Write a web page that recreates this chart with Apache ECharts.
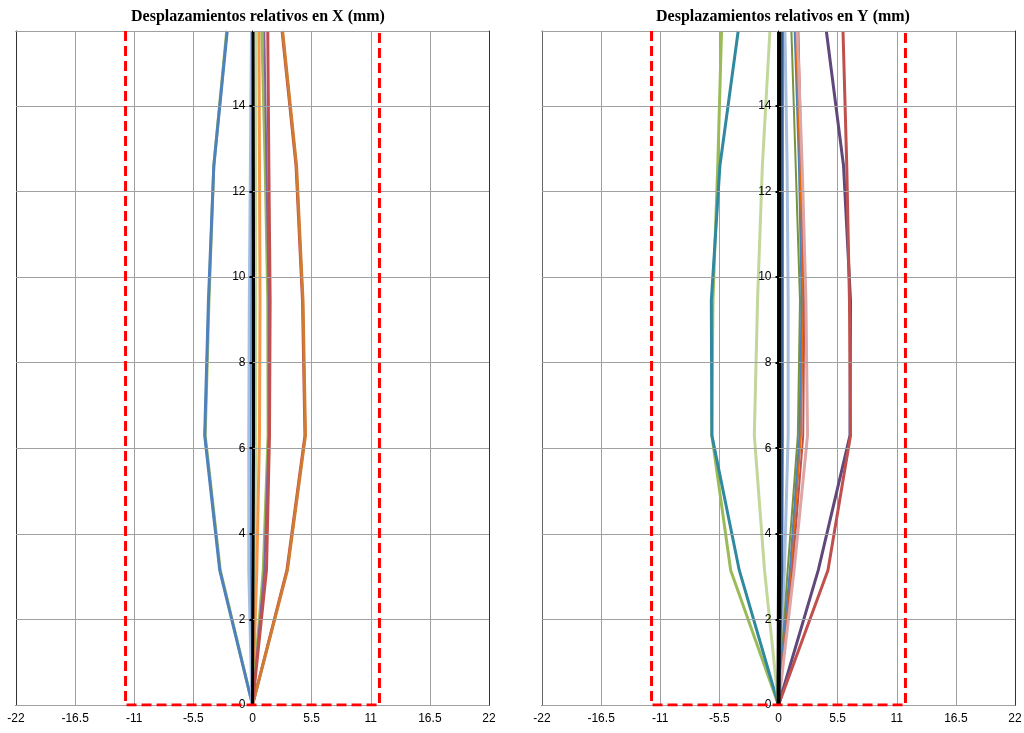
<!DOCTYPE html>
<html>
<head>
<meta charset="utf-8">
<script src="https://cdn.jsdelivr.net/npm/echarts@6/dist/echarts.min.js"></script>
<style>
html,body{margin:0;padding:0;background:#fff;}
#chart{width:1024px;height:733px;}
</style>
</head>
<body>
<div id="chart"></div>
<script>
// Floor heights (y values)
const floors = [0, 3.15, 6.3, 9.45, 12.6, 15.75];
const limit = 11.81;
const titles = ['Desplazamientos relativos en X (mm)', 'Desplazamientos relativos en Y (mm)'];

// X direction series
const xGreenA   = [0, -3.0, -4.4, -4.05, -3.6, -2.4];
const xBlue     = [0, -3.05, -4.45, -4.1, -3.6, -2.35];
const xRedA     = [0, 3.2, 4.88, 4.65, 4.05, 2.75];
const xBrown    = [0, 3.25, 4.93, 4.7, 4.1, 2.8];
const xLightBlue= [0, -0.3, -0.3, -0.25, -0.15, -0.05];
const xBlueThin = [0, -0.15, -0.15, -0.12, -0.08, 0];
const xBlack    = [0, 0.05, 0.1, 0.1, 0.08, 0.05];
const xTan      = [0, 0.2, 0.3, 0.3, 0.3, 0.3];
const xOrange   = [0, 0.4, 0.65, 0.7, 0.65, 0.6];
const xGreen    = [0, 1.0, 1.45, 1.42, 1.18, 0.87];
const xPurple   = [0, 1.1, 1.5, 1.5, 1.3, 1.1];
const xRed      = [0, 1.3, 1.58, 1.64, 1.52, 1.42];

// Y direction series
const yGreen     = [0, -4.45, -6.2, -6.1, -5.65, -5.3];
const yTeal      = [0, -3.65, -6.2, -6.25, -5.45, -3.75];
const yLightGreen= [0, -1.3, -2.25, -1.95, -1.5, -0.8];
const yDarkBlue  = [0, 0.3, 0.35, 0.35, 0.35, 0.35];
const yLightBlue = [0, 0.55, 0.9, 0.9, 0.8, 0.6];
const yOlive     = [0, 0.85, 1.8, 2.0, 1.6, 1.2];
const ySteel     = [0, 1.1, 2.0, 2.2, 1.95, 1.55];
const yOrange    = [0, 1.2, 2.1, 2.3, 2.0, 1.6];
const yRedThin   = [0, 1.3, 2.3, 2.4, 2.15, 1.85];
const yPink      = [0, 1.45, 2.7, 2.55, 2.2, 1.75];
const yPurple    = [0, 3.7, 6.65, 6.7, 6.05, 4.45];
const yRed       = [0, 4.6, 6.7, 6.6, 6.35, 6.0];
const yBlack     = [0, 0.05, 0.05, 0.05, 0.05, 0.05];

const xMin = -22, xMax = 22;
const gridW = 473;
const yMax = floors[floors.length-1];

function pairs(vals){ return vals.map((v,i)=>[v, floors[i]]); }
function line(idx, vals, color, width){
  return {type:'line', xAxisIndex:idx, yAxisIndex:idx, data:pairs(vals), showSymbol:false, symbol:'none',
    lineStyle:{color:color, width:width||3}, itemStyle:{color:color}, silent:true, z:2};
}
function limitSeries(idx){
  return {type:'line', xAxisIndex:idx, yAxisIndex:idx, data:[[-limit, yMax],[-limit,0],[limit,0],[limit,yMax]],
    showSymbol:false, symbol:'none', lineStyle:{color:'#FF0000', width:3, type:[10,5]}, silent:true, z:5};
}

const font = 'Liberation Sans';
function xAxis(idx){
  return {type:'value', gridIndex:idx, min:xMin, max:xMax, interval:5.5,
    axisLine:{show:true, onZero:false, lineStyle:{color:'#000', width:1}},
    axisTick:{show:false},
    axisLabel:{color:'#000', fontSize:12, fontFamily:font, margin:8},
    splitLine:{show:true, lineStyle:{color:'#A0A0A0', width:1}}};
}
function xFrame(idx){
  return {type:'value', gridIndex:idx, min:xMin, max:xMax, position:'top',
    axisLine:{show:true, onZero:false, lineStyle:{color:'#333', width:1}},
    axisTick:{show:false}, axisLabel:{show:false}, splitLine:{show:false}};
}
function yAxis(idx){
  // place the vertical axis at x = 0, as in the reference
  const off = -(0 - xMin) / (xMax - xMin) * gridW;
  return {type:'value', gridIndex:idx, min:0, max:yMax, interval:2,
    position:'left', offset:off, z:4,
    axisLine:{show:true, onZero:false, lineStyle:{color:'#000', width:1}},
    axisTick:{show:true, length:3, lineStyle:{color:'#000', width:2}},
    axisLabel:{color:'#000', fontSize:12, fontFamily:font, margin:7, showMaxLabel:false},
    splitLine:{show:true, lineStyle:{color:'#A0A0A0', width:1}}};
}
function yFrame(idx, pos, color){
  return {type:'value', gridIndex:idx, min:0, max:yMax, position:pos, offset:0,
    axisLine:{show:true, onZero:false, lineStyle:{color:color, width:1}},
    axisTick:{show:false}, axisLabel:{show:false}, splitLine:{show:false}};
}

const option = {
  animation:false,
  backgroundColor:'#fff',
  title:[
    {text:titles[0], left:253, top:4, textAlign:'center', textStyle:{fontFamily:'Liberation Serif', fontWeight:'bold', fontSize:16, color:'#000'}},
    {text:titles[1], left:778, top:4, textAlign:'center', textStyle:{fontFamily:'Liberation Serif', fontWeight:'bold', fontSize:16, color:'#000'}}
  ],
  grid:[
    {left:16, top:31, width:gridW, height:674, show:false, outerBoundsMode:'none', containLabel:false},
    {left:542, top:31, width:gridW, height:674, show:false, outerBoundsMode:'none', containLabel:false}
  ],
  xAxis:[xAxis(0), xAxis(1), xFrame(0), xFrame(1)],
  yAxis:[yAxis(0), yAxis(1), yFrame(0,'left','#333'), yFrame(0,'right','#333'), yFrame(1,'left','#666'), yFrame(1,'right','#333')],
  series:[
    line(0, xGreenA, '#9BBB59'),
    line(0, xBlue, '#4F81BD'),
    line(0, xRedA, '#C0504D'),
    line(0, xBrown, '#CF7B33'),
    line(0, xLightBlue, '#A7BFDE', 4),
    line(0, xBlueThin, '#4F81BD', 1.5),
    line(0, xTan, '#C4D79B'),
    line(0, xOrange, '#F79646'),
    line(0, xGreen, '#9BBB59'),
    line(0, xPurple, '#8064A2', 2),
    line(0, xRed, '#C0504D'),
    line(0, xBlack, '#000000', 3),
    limitSeries(0),

    line(1, yGreen, '#9BBB59'),
    line(1, yTeal, '#31899F'),
    line(1, yLightGreen, '#C4D79B'),
    line(1, yLightBlue, '#A7BFDE'),
    line(1, yOlive, '#77933C', 2),
    line(1, ySteel, '#4F81BD'),
    line(1, yOrange, '#E46C0A', 1.5),
    line(1, yRedThin, '#C0504D', 2),
    line(1, yPink, '#DDA5A4'),
    line(1, yPurple, '#60497A'),
    line(1, yRed, '#C0504D'),
    line(1, yDarkBlue, '#376092', 3),
    line(1, yBlack, '#000000', 4),
    limitSeries(1)
  ]
};
const chart = echarts.init(document.getElementById('chart'), null, {renderer:'canvas'});
chart.setOption(option);
</script>
</body>
</html>
